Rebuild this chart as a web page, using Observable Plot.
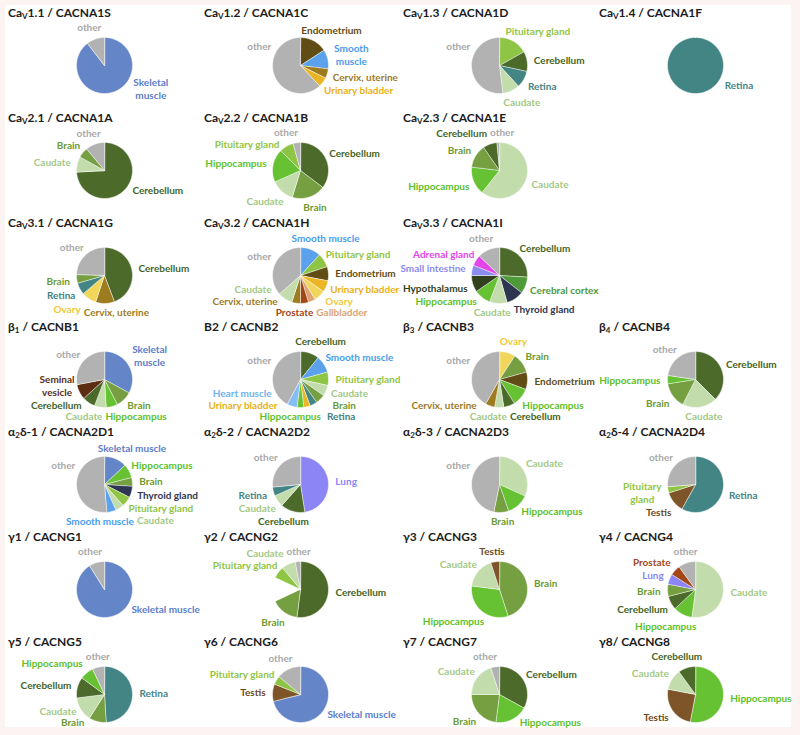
<!DOCTYPE html>
<html><head><meta charset="utf-8">
<script src="https://cdn.jsdelivr.net/npm/d3@7"></script>
<script src="https://cdn.jsdelivr.net/npm/@observablehq/plot@0.6"></script>
<style>
html,body{margin:0;padding:0;background:#fcf3f3;width:800px;height:735px;overflow:hidden;position:relative;}
#frame{position:absolute;left:5px;top:5px;width:786px;height:722px;background:#fff;}
.panel{position:absolute;width:198px;height:105px;}
.title{position:absolute;left:4px;top:0;font:bold 12px Lato, sans-serif;color:#1c1c1c;line-height:14px;white-space:nowrap;}
.title sub{font-size:8px;vertical-align:-2px;line-height:0;}
.panel svg{position:absolute;left:0;top:0;overflow:visible;}
</style></head><body><div id="frame"></div><script>
// ---- data: share of expression per tissue (fractions of the pie, clockwise from 12 o'clock)
const CACNA1S = [["Skeletal\nmuscle", 0.895], ["other", 0.105]];
const CACNA1C = [["Endometrium", 0.158], ["Smooth\nmuscle", 0.111], ["Cervix, uterine", 0.055], ["Urinary bladder", 0.056], ["other", 0.62]];
const CACNA1D = [["Pituitary gland", 0.169], ["Cerebellum", 0.115], ["Retina", 0.098], ["Caudate", 0.099], ["other", 0.519]];
const CACNA1F = [["Retina", 1]];
const CACNA1A = [["Cerebellum", 0.74], ["Caudate", 0.09], ["Brain", 0.06], ["other", 0.11]];
const CACNA1B = [["Cerebellum", 0.353], ["Brain", 0.194], ["Caudate", 0.136], ["Hippocampus", 0.192], ["Pituitary gland", 0.082], ["other", 0.043]];
const CACNA1E = [["Caudate", 0.607], ["Hippocampus", 0.162], ["Brain", 0.135], ["Cerebellum", 0.081], ["other", 0.015]];
const CACNA1G = [["Cerebellum", 0.442], ["Cervix, uterine", 0.109], ["Ovary", 0.086], ["Retina", 0.068], ["Brain", 0.05], ["other", 0.245]];
const CACNA1H = [["Smooth muscle", 0.118], ["Pituitary gland", 0.081], ["Endometrium", 0.081], ["Urinary bladder", 0.067], ["Ovary", 0.066], ["Gallbladder", 0.041], ["Prostate", 0.046], ["Cervix, uterine", 0.05], ["Caudate", 0.085], ["other", 0.365]];
const CACNA1I = [["Cerebellum", 0.259], ["Cerebral cortex", 0.096], ["Thyroid gland", 0.101], ["Caudate", 0.101], ["Hippocampus", 0.097], ["Hypothalamus", 0.096], ["Small intestine", 0.059], ["Adrenal gland", 0.063], ["other", 0.128]];
const CACNB1 = [["Skeletal\nmuscle", 0.329], ["Brain", 0.095], ["Hippocampus", 0.066], ["Caudate", 0.068], ["Cerebellum", 0.074], ["Seminal\nvesicle", 0.088], ["other", 0.28]];
const CACNB2 = [["Cerebellum", 0.108], ["Smooth muscle", 0.099], ["Pituitary gland", 0.077], ["Caudate", 0.062], ["Brain", 0.056], ["Retina", 0.042], ["Urinary bladder", 0.037], ["Hippocampus", 0.038], ["Heart muscle", 0.059], ["other", 0.422]];
const CACNB3 = [["Ovary", 0.092], ["Brain", 0.115], ["Endometrium", 0.1], ["Hippocampus", 0.104], ["Cerebellum", 0.064], ["Caudate", 0.053], ["Cervix, uterine", 0.054], ["other", 0.418]];
const CACNB4 = [["Cerebellum", 0.375], ["Caudate", 0.2], ["Brain", 0.15], ["Hippocampus", 0.048], ["other", 0.227]];
const CACNA2D1 = [["Skeletal muscle", 0.13], ["Hippocampus", 0.08], ["Brain", 0.05], ["Thyroid gland", 0.065], ["Pituitary gland", 0.06], ["Caudate", 0.048], ["Smooth muscle", 0.053], ["other", 0.514]];
const CACNA2D2 = [["Lung", 0.475], ["Cerebellum", 0.141], ["Caudate", 0.068], ["Retina", 0.051], ["other", 0.265]];
const CACNA2D3 = [["Caudate", 0.317], ["Hippocampus", 0.13], ["Brain", 0.085], ["other", 0.468]];
const CACNA2D4 = [["Retina", 0.58], ["Testis", 0.121], ["Pituitary\ngland", 0.036], ["other", 0.263]];
const CACNG1 = [["Skeletal muscle", 0.91], ["other", 0.09]];
const CACNG2 = [["Cerebellum", 0.52], ["Brain", 0.16], ["Hippoc\nampus", 0.14], ["Pituitary gland", 0.07], ["Caudate", 0.08], ["other", 0.03]];
const CACNG3 = [["Brain", 0.45], ["Hippocampus", 0.32], ["Caudate", 0.18], ["Testis", 0.05]];
const CACNG4 = [["Caudate", 0.52], ["Hippocampus", 0.11], ["Cerebellum", 0.08], ["Brain", 0.07], ["Lung", 0.06], ["Prostate", 0.06], ["other", 0.10]];
const CACNG5 = [["Retina", 0.49], ["Brain", 0.10], ["Caudate", 0.14], ["Cerebellum", 0.12], ["Hippocampus", 0.08], ["other", 0.07]];
const CACNG6 = [["Skeletal muscle", 0.71], ["Testis", 0.10], ["Pituitary gland", 0.05], ["other", 0.14]];
const CACNG7 = [["Cerebellum", 0.33], ["Hippocampus", 0.19], ["Brain", 0.23], ["Caudate", 0.20], ["other", 0.05]];
const CACNG8 = [["Hippocampus", 0.53], ["Testis", 0.25], ["Caudate", 0.12], ["Cerebellum", 0.10]];

// panel titles (_X = subscript X) and grid of genes
const titles = {
  CACNA1S: "Ca_V1.1 / CACNA1S", CACNA1C: "Ca_V1.2 / CACNA1C", CACNA1D: "Ca_V1.3 / CACNA1D", CACNA1F: "Ca_V1.4 / CACNA1F",
  CACNA1A: "Ca_V2.1 / CACNA1A", CACNA1B: "Ca_V2.2 / CACNA1B", CACNA1E: "Ca_V2.3 / CACNA1E",
  CACNA1G: "Ca_V3.1 / CACNA1G", CACNA1H: "Ca_V3.2 / CACNA1H", CACNA1I: "Ca_V3.3 / CACNA1I",
  CACNB1: "β_1 / CACNB1", CACNB2: "B2 / CACNB2", CACNB3: "β_3 / CACNB3", CACNB4: "β_4 / CACNB4",
  CACNA2D1: "α_2δ-1 / CACNA2D1", CACNA2D2: "α_2δ-2 / CACNA2D2", CACNA2D3: "α_2δ-3 / CACNA2D3", CACNA2D4: "α_2δ-4 / CACNA2D4",
  CACNG1: "γ1 / CACNG1", CACNG2: "γ2 / CACNG2", CACNG3: "γ3 / CACNG3", CACNG4: "γ4 / CACNG4",
  CACNG5: "γ5 / CACNG5", CACNG6: "γ6 / CACNG6", CACNG7: "γ7 / CACNG7", CACNG8: "γ8/ CACNG8"
};
const pies = {CACNA1S, CACNA1C, CACNA1D, CACNA1F, CACNA1A, CACNA1B, CACNA1E, CACNA1G, CACNA1H, CACNA1I,
  CACNB1, CACNB2, CACNB3, CACNB4, CACNA2D1, CACNA2D2, CACNA2D3, CACNA2D4,
  CACNG1, CACNG2, CACNG3, CACNG4, CACNG5, CACNG6, CACNG7, CACNG8};
const grid = [
  ["CACNA1S", "CACNA1C", "CACNA1D", "CACNA1F"],
  ["CACNA1A", "CACNA1B", "CACNA1E", null],
  ["CACNA1G", "CACNA1H", "CACNA1I", null],
  ["CACNB1", "CACNB2", "CACNB3", "CACNB4"],
  ["CACNA2D1", "CACNA2D2", "CACNA2D3", "CACNA2D4"],
  ["CACNG1", "CACNG2", "CACNG3", "CACNG4"],
  ["CACNG5", "CACNG6", "CACNG7", "CACNG8"]
];

// ---- styles
const sliceColor = {
  "other": "#b2b2b2", "Skeletal muscle": "#6585c9", "Smooth muscle": "#5ca1eb", "Endometrium": "#614c14",
  "Cervix, uterine": "#9d7b1f", "Urinary bladder": "#eab626", "Pituitary gland": "#8fc545", "Cerebellum": "#4c6b2b",
  "Retina": "#438484", "Caudate": "#c3dcac", "Brain": "#759f40", "Hippocampus": "#66c133", "Ovary": "#f1d65c",
  "Gallbladder": "#dda373", "Prostate": "#a3471b", "Cerebral cortex": "#4e993a", "Thyroid gland": "#2d3551",
  "Hypothalamus": "#30411d", "Small intestine": "#8b8cf0", "Adrenal gland": "#e246ea", "Seminal vesicle": "#5c2d13",
  "Heart muscle": "#85bcf1", "Lung": "#8b85f5", "Testis": "#7d5529"
};
const labelColor = Object.assign({}, sliceColor, {
  "other": "#a9a9a9", "Caudate": "#a3c985", "Skeletal muscle": "#5b7dcb", "Smooth muscle": "#479cf0",
  "Hippocampus": "#5cc12a", "Ovary": "#efc93a", "Urinary bladder": "#e9b018", "Heart muscle": "#6db1f0", "Testis": "#6e4a22",
  "Cerebellum": "#44651f", "Brain": "#6c9a33"
});

const colLeft = [4, 200, 399, 595];
const rowStep = 104.8, rowTop0 = 6, pageBottom = 727;
const PW = 198, PH = 105, CX = 100, CY = 59, RAD = 28;
const FONT = "Lato, sans-serif";

const ctx = document.createElement("canvas").getContext("2d");
ctx.font = "bold 10px Lato";

function titleHTML(s) { return s.replace(/_(.)/g, "<sub>$1</sub>"); }

function buildPie(rows) {
  const pie = d3.pie().sort(null).value(d => d[1]);
  const arcs = pie(rows);
  const pts = [];
  arcs.forEach((a, i) => {
    const name = a.data[0].replace("\n", " ");
    const full = a.endAngle - a.startAngle > 2 * Math.PI - 1e-6;
    if (!full) pts.push({id: i, x: CX, y: CY, fill: sliceColor[name]});
    const n = Math.max(2, Math.ceil((a.endAngle - a.startAngle) / (Math.PI / 90)));
    for (let k = 0; k <= n; k++) {
      const t = a.startAngle + (a.endAngle - a.startAngle) * k / n;
      pts.push({id: i, x: CX + RAD * Math.sin(t), y: CY - RAD * Math.cos(t), fill: sliceColor[name]});
    }
  });
  return {arcs, pts};
}

function layoutLabels(arcs, bottom) {
  const R = RAD + 7, TAU = 2 * Math.PI;
  const L = arcs.map(s => {
    const label = s.data[0];
    const name = label.replace("\n", " ");
    let a = (s.startAngle + s.endAngle) / 2;
    const frac = (s.endAngle - s.startAngle) / TAU;
    if (name === "other") a = Math.min(Math.max(a, 0.83 * TAU), 0.95 * TAU);
    else if (frac > 0.7) a = 118 * Math.PI / 180;
    const lines = label.split("\n");
    const w = Math.max(...lines.map(t => ctx.measureText(t).width));
    const h = lines.length > 1 ? lines.length * 13 : 11;
    const sa = Math.sin(a), ca = Math.cos(a);
    const px = CX + R * sa, py = CY - R * ca;
    const x0 = px - w * (1 - sa) / 2;
    return {text: label, color: labelColor[name], a, ca, w, h, side: a < Math.PI ? 1 : -1, x: x0 + w / 2, y: py - ca * h / 2};
  });
  // when one side is crowded, hand its labels nearest the bottom / top over to the other side
  for (let k = 0; k < 10; k++) {
    const rb = L.filter(l => l.side > 0 && l.ca < -0.2), lb = L.filter(l => l.side < 0 && l.ca < -0.2);
    if (rb.length >= 4 && rb.length - lb.length >= 2) d3.greatest(rb, l => l.a).side = -1;
    else if (lb.length >= 4 && lb.length - rb.length >= 2) d3.least(lb, l => l.a).side = 1;
    else break;
  }
  for (let k = 0; k < 10; k++) {
    const rt = L.filter(l => l.side > 0 && l.ca > 0.2), lt = L.filter(l => l.side < 0 && l.ca > 0.2);
    if (rt.length >= 3 && rt.length - lt.length >= 2) d3.least(rt, l => l.a).side = -1;
    else if (lt.length >= 3 && lt.length - rt.length >= 2) d3.greatest(lt, l => l.a).side = 1;
    else break;
  }
  const top = 15, left = 0, right = 201;
  const xOver = (a, b) => (a.w + b.w) / 2 + 3 - Math.abs(a.x - b.x);
  for (let it = 0; it < 200; it++) {
    for (const side of [-1, 1]) {
      const S = L.filter(l => l.side === side).sort((a, b) => a.y - b.y);
      for (let i = 0; i + 1 < S.length; i++) {
        const a = S[i], b = S[i + 1];
        if (xOver(a, b) <= 0) continue;
        const need = (a.h + b.h) / 2 + 0.5, d = b.y - a.y;
        if (d < need) { const s = (need - d) / 2; a.y -= s; b.y += s; }
      }
    }
    for (const l of L) l.y = Math.max(top + l.h / 2, Math.min(bottom - l.h / 2, l.y));
    // keep labels off the pie, moving them sideways
    for (const l of L) {
      const y0 = l.y - l.h / 2, y1 = l.y + l.h / 2, rr = RAD + 2;
      const dy = (y0 <= CY && y1 >= CY) ? 0 : Math.min(Math.abs(y0 - CY), Math.abs(y1 - CY));
      if (dy >= rr) continue;
      const ext = Math.sqrt(rr * rr - dy * dy);
      if (l.side > 0 && l.x - l.w / 2 < CX + ext) l.x += Math.min(1.5, CX + ext - (l.x - l.w / 2));
      if (l.side < 0 && l.x + l.w / 2 > CX - ext) l.x -= Math.min(1.5, (l.x + l.w / 2) - (CX - ext));
    }
    // labels of opposite sides that collide move apart horizontally
    for (let i = 0; i < L.length; i++) for (let j = i + 1; j < L.length; j++) {
      const a = L[i], b = L[j];
      if (a.side === b.side) continue;
      const ox = xOver(a, b), oy = (a.h + b.h) / 2 + 0.5 - Math.abs(a.y - b.y);
      if (ox > 0 && oy > 0) { const s = Math.min(1.5, ox / 2); a.x += a.side * s; b.x += b.side * s; }
    }
    for (const l of L) l.x = Math.max(left + l.w / 2, Math.min(right - l.w / 2, l.x));
  }
  return L;
}

grid.forEach((row, r) => row.forEach((gene, c) => {
  if (!gene) return;
  const div = document.createElement("div");
  div.className = "panel";
  const top = rowTop0 + rowStep * r;
  div.style.left = colLeft[c] + "px";
  div.style.top = top + "px";
  const {arcs, pts} = buildPie(pies[gene]);
  const labels = layoutLabels(arcs, Math.min(101, pageBottom - top));
  const svg = Plot.plot({
    width: PW, height: PH, margin: 0,
    x: {domain: [0, PW], range: [0, PW], axis: null},
    y: {domain: [0, PH], range: [0, PH], axis: null},
    color: {type: "identity"},
    style: {overflow: "visible", background: "transparent"},
    marks: [
      Plot.line(pts, {x: "x", y: "y", z: "id", fill: "fill", stroke: "#ffffff", strokeWidth: 0.5, curve: "linear-closed"}),
      Plot.text(labels, {x: "x", y: "y", text: "text", fill: "color", fontSize: 10, fontWeight: "bold", fontFamily: FONT,
        textAnchor: "middle", lineAnchor: "middle", lineHeight: 1.3})
    ]
  });
  div.appendChild(svg);
  const t = document.createElement("div");
  t.className = "title";
  t.innerHTML = titleHTML(titles[gene]);
  div.appendChild(t);
  document.body.appendChild(div);
}));
</script></body></html>
